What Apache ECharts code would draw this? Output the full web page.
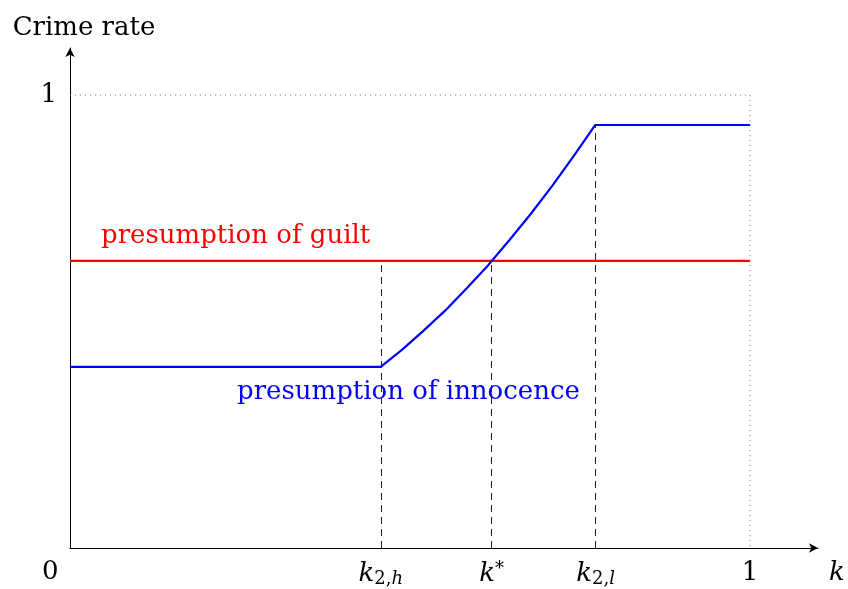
<!DOCTYPE html>
<html><head><meta charset="utf-8">
<script src="https://cdn.jsdelivr.net/npm/echarts@6/dist/echarts.min.js"></script>
<style>html,body{margin:0;padding:0;background:#fff}#c{width:848px;height:589px}</style>
</head><body><div id="c"></div>
<script>
// ---- data ----
const kH = 0.457, kStar = 0.620, kL = 0.773;
const guiltX = [0, 1];
const guiltY = [0.634, 0.634];
const innocenceX = [0, 0.4569, 0.4885, 0.5200, 0.5516, 0.5831, 0.6147, 0.6463, 0.6778, 0.7094, 0.7409, 0.7725, 1];
const innocenceY = [0.400, 0.400, 0.438, 0.480, 0.524, 0.573, 0.624, 0.680, 0.738, 0.800, 0.866, 0.934, 0.934];
const xTickValues = [kH, kStar, kL, 1];
const xTickLabels = ['{i|k}{s|2,}{si|h}', '{i|k}{sup|*}', '{i|k}{s|2,}{si|l}', '1'];
const yTickValues = [1];
const yTickLabels = ['1'];

const FONT = '"DejaVu Serif", "Liberation Serif", serif';
const FS = 26;
const SFS = 18;
const chart = echarts.init(document.getElementById('c'), null, {renderer: 'canvas'});
const zip = (xs, ys) => xs.map((x, i) => [x, ys[i]]);

chart.setOption({
  animation: false,
  backgroundColor: '#fff',
  grid: {left: 70, right: 30, top: 48, bottom: 41, containLabel: false},
  xAxis: {
    type: 'value', min: 0, max: 1.1,
    name: 'k', nameLocation: 'end', nameGap: 11,
    nameTextStyle: {fontFamily: FONT, fontSize: FS, fontStyle: 'italic', color: '#000', verticalAlign: 'top', padding: [12, 0, 0, 0]},
    axisLine: {show: true, symbol: ['none', 'arrow'], symbolSize: [7, 9], lineStyle: {color: '#000', width: 1}},
    axisTick: {show: false},
    splitLine: {show: false},
    axisLabel: {
      customValues: xTickValues, margin: 12, color: '#000',
      fontFamily: FONT, fontSize: FS,
      formatter: (v) => { const i = xTickValues.indexOf(v); return i >= 0 ? xTickLabels[i] : ''; },
      rich: {
        i: {fontFamily: FONT, fontSize: FS, fontStyle: 'italic', color: '#000'},
        s: {fontFamily: FONT, fontSize: SFS, color: '#000', verticalAlign: 'bottom', padding: [10, 0, 0, 0]},
        si: {fontFamily: FONT, fontSize: SFS, fontStyle: 'italic', color: '#000', verticalAlign: 'bottom', padding: [10, 0, 0, 0]},
        sup: {fontFamily: FONT, fontSize: SFS, color: '#000', verticalAlign: 'top', padding: [0, 0, 10, 0]}
      }
    }
  },
  yAxis: {
    type: 'value', min: 0, max: 1.104,
    name: 'Crime rate', nameLocation: 'end', nameGap: 7,
    nameTextStyle: {fontFamily: FONT, fontSize: FS, color: '#000', align: 'center', verticalAlign: 'bottom', padding: [0, 0, 0, 28]},
    axisLine: {show: true, symbol: ['none', 'arrow'], symbolSize: [7, 9], lineStyle: {color: '#000', width: 1}},
    axisTick: {show: false},
    splitLine: {show: false},
    axisLabel: {
      customValues: yTickValues, margin: 13, color: '#000', fontFamily: FONT, fontSize: FS,
      formatter: (v) => { const i = yTickValues.indexOf(v); return i >= 0 ? yTickLabels[i] : ''; }
    }
  },
  graphic: [
    {type: 'text', left: 42, top: 559, style: {text: '0', font: FS + 'px ' + FONT, fill: '#000'}},
    {type: 'text', left: 101, top: 223, style: {text: 'presumption of guilt', font: FS + 'px ' + FONT, fill: '#ff0000'}},
    {type: 'text', left: 237, top: 379, style: {text: 'presumption of innocence', font: FS + 'px ' + FONT, fill: '#0000ff'}}
  ],
  series: [
    {
      type: 'line', name: 'frame', data: [[0, 1], [1, 1], [1, 0]], symbol: 'none', silent: true,
      lineStyle: {color: '#777', width: 1, type: [1, 4]}, z: 1
    },
    {
      type: 'line', name: 'guides', data: [], symbol: 'none', silent: true,
      markLine: {
        silent: true, symbol: ['none', 'none'], label: {show: false},
        lineStyle: {color: '#222', width: 1, type: [7, 5]},
        data: [
          [{coord: [kH, 0]}, {coord: [kH, guiltY[0]]}],
          [{coord: [kStar, 0]}, {coord: [kStar, guiltY[0]]}],
          [{coord: [kL, 0]}, {coord: [kL, innocenceY[innocenceY.length - 1]]}]
        ]
      }, z: 1
    },
    {
      type: 'line', name: 'presumption of guilt', data: zip(guiltX, guiltY), symbol: 'none',
      lineStyle: {color: '#ff0000', width: 2.2}, z: 3
    },
    {
      type: 'line', name: 'presumption of innocence', data: zip(innocenceX, innocenceY), symbol: 'none', smooth: false,
      lineStyle: {color: '#0000ff', width: 2.2}, z: 4
    }
  ]
});
</script></body></html>
